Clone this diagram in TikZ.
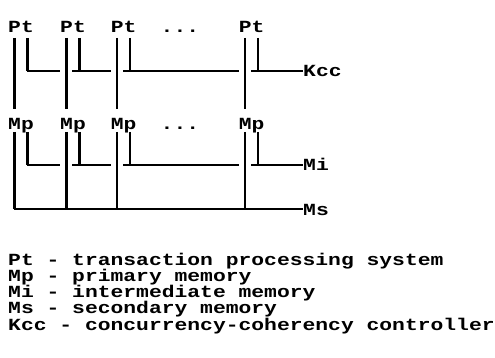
\documentclass[tikz,border=0pt]{standalone}
\usepackage{fontspec}
\newfontfamily\printfont[FakeStretch=1.255,BoldFont={Liberation Mono Bold}]{Liberation Mono}
\usetikzlibrary{calc}
\tikzset{
  lab/.style={anchor=base west, inner sep=0pt, font=\printfont\bfseries\fontsize{17pt}{17pt}\selectfont},
  wire/.style={line width=2.6pt, line join=miter}
}
\begin{document}
\begin{tikzpicture}[x=1pt,y=-1pt]
\useasboundingbox (0,0) rectangle (495,358);
% column labels and anchor coordinates
\foreach \i/\s in {1/8,2/60,3/110.6,4/238.6}{
  \node[lab] (pt\i) at (\s,33) {Pt};
  \node[lab] (mp\i) at (\s,130) {Mp};
  \coordinate (a\i) at (\s+6.4,38);
  \coordinate (b\i) at (\s+19.2,38);
  \coordinate (c\i) at (\s+6.4,109);
  \coordinate (d\i) at (\s+19.2,71);
  \coordinate (e\i) at (\s+6.4,132);
  \coordinate (f\i) at (\s+19.2,132);
  \coordinate (g\i) at (\s+19.2,165);
  \coordinate (h\i) at (\s+6.4,209);
}
\node[lab] (dots1) at (160.5,33) {...};
\node[lab] (dots2) at (160.5,130) {...};
\node[lab] (kcc) at (303,77) {Kcc};
\node[lab] (mi) at (303,171) {Mi};
\node[lab] (ms) at (303,215) {Ms};
% vertical lines
\foreach \i in {1,2,3,4}{
  \draw[wire] (a\i) -- (c\i);
  \draw[wire] (b\i) -- (d\i);
  \draw[wire] (e\i) -- (h\i);
  \draw[wire] (f\i) -- (g\i);
}
% Kcc bus (broken where it crosses the long lines)
\draw[wire] (d1) -- ($(a2|-d1)+(-6,0)$);
\draw[wire] ($(a2|-d1)+(6,0)$) -- ($(a3|-d1)+(-6,0)$);
\draw[wire] ($(a3|-d1)+(6,0)$) -- ($(a4|-d1)+(-6,0)$);
\draw[wire] ($(a4|-d1)+(6,0)$) -- (d1 -| kcc.west);
% Mi bus
\draw[wire] (g1) -- ($(e2|-g1)+(-6,0)$);
\draw[wire] ($(e2|-g1)+(6,0)$) -- ($(e3|-g1)+(-6,0)$);
\draw[wire] ($(e3|-g1)+(6,0)$) -- ($(e4|-g1)+(-6,0)$);
\draw[wire] ($(e4|-g1)+(6,0)$) -- (g1 -| mi.west);
% Ms bus
\draw[wire] (h1) -- (h1 -| ms.west);
% legend
\node[lab] (l1) at (8,265) {Pt - transaction processing system};
\node[lab] (l2) at (8,281.3) {Mp - primary memory};
\node[lab] (l3) at (8,297.5) {Mi - intermediate memory};
\node[lab] (l4) at (8,313.8) {Ms - secondary memory};
\node[lab] (l5) at (8,330) {Kcc - concurrency-coherency controller};
\end{tikzpicture}
\end{document}
